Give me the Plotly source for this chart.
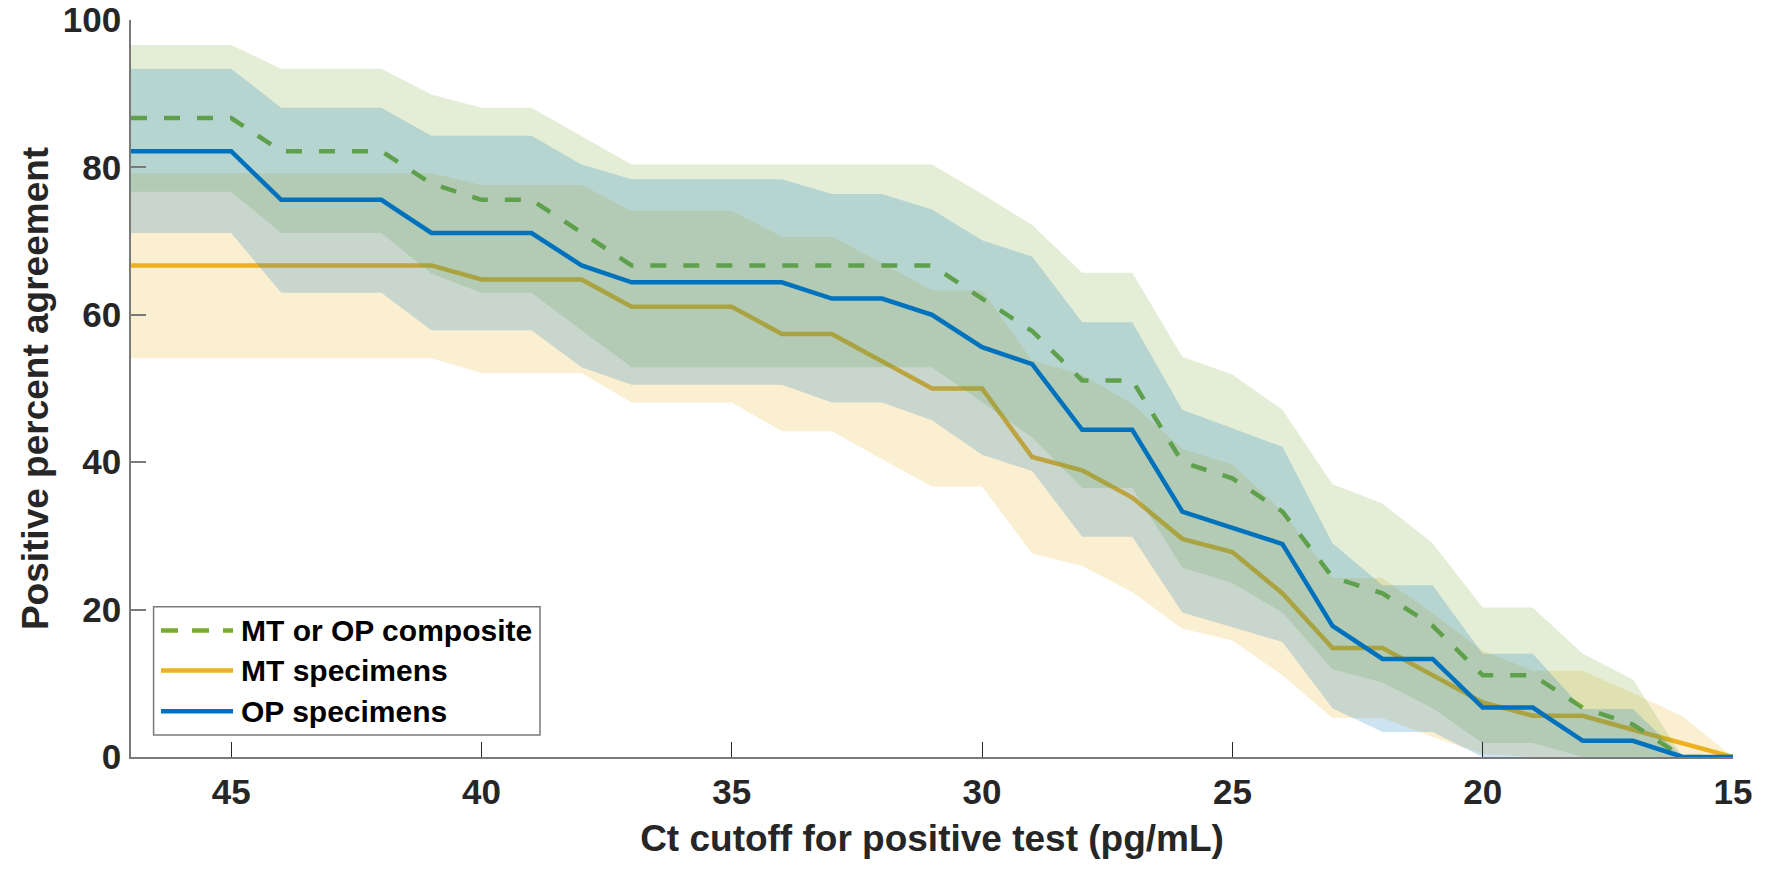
import plotly.graph_objects as go

# Ct cutoff values (x axis)
ct = [47, 46, 45, 44, 43, 42, 41, 40, 39, 38, 37, 36, 35, 34, 33, 32, 31,
      30, 29, 28, 27, 26, 25, 24, 23, 22, 21, 20, 19, 18, 17, 16, 15]

# MT or OP composite
comp = [86.7, 86.7, 86.7, 82.2, 82.2, 82.2, 77.8, 75.6, 75.6, 71.1, 66.7, 66.7, 66.7, 66.7, 66.7, 66.7, 66.7,
        62.2, 57.8, 51.1, 51.1, 40.0, 37.8, 33.3, 24.4, 22.2, 17.8, 11.1, 11.1, 6.7, 4.4, 0.0, 0.0]
comp_lo = [76.7, 76.7, 76.7, 71.1, 71.1, 71.1, 65.6, 63.0, 63.0, 57.9, 52.9, 52.9, 52.9, 52.9, 52.9, 52.9, 52.9,
           48.1, 43.4, 36.5, 36.5, 25.7, 23.6, 19.6, 11.9, 10.1, 6.6, 1.9, 1.9, 0.0, 0.0, 0.0, 0.0]
comp_hi = [96.6, 96.6, 96.6, 93.4, 93.4, 93.4, 89.9, 88.1, 88.1, 84.3, 80.4, 80.4, 80.4, 80.4, 80.4, 80.4, 80.4,
           76.4, 72.2, 65.7, 65.7, 54.3, 51.9, 47.1, 37.0, 34.4, 29.0, 20.3, 20.3, 14.0, 10.5, 0.0, 0.0]

# MT specimens
mt = [66.7, 66.7, 66.7, 66.7, 66.7, 66.7, 66.7, 64.8, 64.8, 64.8, 61.1, 61.1, 61.1, 57.4, 57.4, 53.7, 50.0,
      50.0, 40.7, 38.9, 35.2, 29.6, 27.8, 22.2, 14.8, 14.8, 11.1, 7.4, 5.6, 5.6, 3.7, 1.9, 0.0]
mt_lo = [54.1, 54.1, 54.1, 54.1, 54.1, 54.1, 54.1, 52.1, 52.1, 52.1, 48.1, 48.1, 48.1, 44.2, 44.2, 40.4, 36.7,
         36.7, 27.6, 25.9, 22.4, 17.4, 15.8, 11.1, 5.3, 5.3, 2.7, 0.4, 0.0, 0.0, 0.0, 0.0, 0.0]
mt_hi = [79.2, 79.2, 79.2, 79.2, 79.2, 79.2, 79.2, 77.6, 77.6, 77.6, 74.1, 74.1, 74.1, 70.6, 70.6, 67.0, 63.3,
         63.3, 53.8, 51.9, 47.9, 41.8, 39.7, 33.3, 24.3, 24.3, 19.5, 14.4, 11.7, 11.7, 8.7, 5.5, 0.0]

# OP specimens
op = [82.2, 82.2, 82.2, 75.6, 75.6, 75.6, 71.1, 71.1, 71.1, 66.7, 64.4, 64.4, 64.4, 64.4, 62.2, 62.2, 60.0,
      55.6, 53.3, 44.4, 44.4, 33.3, 31.1, 28.9, 17.8, 13.3, 13.3, 6.7, 6.7, 2.2, 2.2, 0.0, 0.0]
op_lo = [71.1, 71.1, 71.1, 63.0, 63.0, 63.0, 57.9, 57.9, 57.9, 52.9, 50.5, 50.5, 50.5, 50.5, 48.1, 48.1, 45.7,
         41.0, 38.8, 29.9, 29.9, 19.6, 17.6, 15.6, 6.6, 3.4, 3.4, 0.0, 0.0, 0.0, 0.0, 0.0, 0.0]
op_hi = [93.4, 93.4, 93.4, 88.1, 88.1, 88.1, 84.3, 84.3, 84.3, 80.4, 78.4, 78.4, 78.4, 78.4, 76.4, 76.4, 74.3,
         70.1, 67.9, 59.0, 59.0, 47.1, 44.6, 42.1, 29.0, 23.3, 23.3, 14.0, 14.0, 6.5, 6.5, 0.0, 0.0]

x_ticks = [45, 40, 35, 30, 25, 20, 15]
y_ticks = [0, 20, 40, 60, 80, 100]

series_names = ["MT or OP composite", "MT specimens", "OP specimens"]
GREEN = "#77AC30"
YELLOW = "#EDB120"
BLUE = "#0072BD"
FILL = {GREEN: "rgba(119,172,48,0.2)", YELLOW: "rgba(237,177,32,0.2)", BLUE: "rgba(0,114,189,0.2)"}

TXT = "#262626"
AX = "#7a7a7a"
FONT = "Liberation Sans, Arial, sans-serif"
LW = 4.5

fig = go.Figure()


def band(lo, hi, color):
    fig.add_trace(go.Scatter(
        x=ct + ct[::-1], y=hi + lo[::-1], fill="toself", fillcolor=FILL[color],
        line=dict(width=0, color="rgba(0,0,0,0)"), mode="lines",
        hoverinfo="skip", showlegend=False))


def line(y, color, name, dash="solid"):
    fig.add_trace(go.Scatter(
        x=ct, y=y, mode="lines", name=name,
        line=dict(color=color, width=LW, dash=dash), showlegend=False))


# drawing order: MT, composite, OP (each band then its line)
band(mt_lo, mt_hi, YELLOW)
line(mt, YELLOW, series_names[1])
band(comp_lo, comp_hi, GREEN)
line(comp, GREEN, series_names[0], dash="16px,17px")
band(op_lo, op_hi, BLUE)
line(op, BLUE, series_names[2])

# custom legend (box, sample lines, labels) in axis-domain coordinates
L = dict(x0=0.0141, x1=0.2553, y0=0.0299, y1=0.2037)
rows = [0.1715, 0.1172, 0.0621]
legend_items = [(series_names[0], GREEN, "dash"), (series_names[1], YELLOW, "solid"), (series_names[2], BLUE, "solid")]
fig.add_shape(type="rect", xref="x domain", yref="y domain", x0=L["x0"], x1=L["x1"], y0=L["y0"], y1=L["y1"],
              line=dict(color=AX, width=1.5), fillcolor="white", layer="above")
for (name, color, dash), ry in zip(legend_items, rows):
    fig.add_shape(type="line", xref="x domain", yref="y domain", x0=0.0187, x1=0.0637, y0=ry, y1=ry,
                  line=dict(color=color, width=LW, dash="17px,14px" if dash == "dash" else "solid"), layer="above")
    fig.add_annotation(xref="x domain", yref="y domain", x=0.0672, y=ry, text=name, showarrow=False,
                       xanchor="left", yanchor="middle", yshift=0,
                       font=dict(family=FONT, size=30, color="black", weight="bold"))

fig.update_layout(
    width=1782, height=876,
    margin=dict(l=131, r=49, t=20, b=119, autoexpand=False),
    paper_bgcolor="white", plot_bgcolor="white",
    showlegend=False,
    font=dict(family=FONT, color=TXT),
)
fig.update_xaxes(
    range=[47, 15], tickvals=x_ticks, ticktext=[str(v) for v in x_ticks],
    ticks="inside", ticklen=15, tickwidth=1, tickcolor=TXT,
    showline=True, linecolor=AX, linewidth=1.5, showgrid=False, zeroline=False,
    tickfont=dict(family=FONT, size=35, color=TXT, weight="bold"),
    ticklabelstandoff=3,
    title=dict(text="Ct cutoff for positive test (pg/mL)", standoff=15,
               font=dict(family=FONT, size=37, color=TXT, weight="bold")),
    automargin=False,
)
fig.update_yaxes(
    range=[0, 100], tickvals=y_ticks, ticktext=[str(v) for v in y_ticks],
    ticks="inside", ticklen=15, tickwidth=1.5, tickcolor=AX,
    showline=True, linecolor=AX, linewidth=1.5, showgrid=False, zeroline=False,
    tickfont=dict(family=FONT, size=35, color=TXT, weight="bold"),
    ticklabelstandoff=1,
    title=dict(text="Positive percent agreement", standoff=3,
               font=dict(family=FONT, size=37, color=TXT, weight="bold")),
    automargin=False,
)

fig.write_html("out.html")
